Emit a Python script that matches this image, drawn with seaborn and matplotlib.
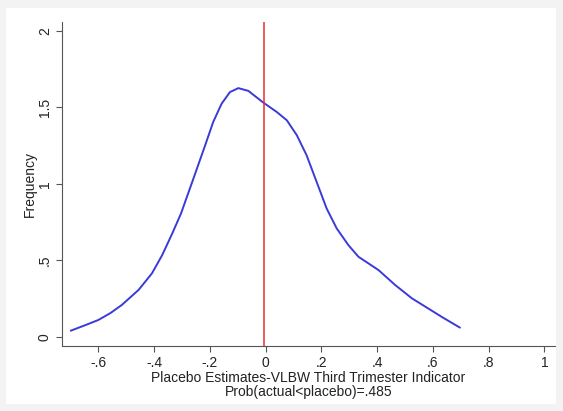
import matplotlib
matplotlib.use("Agg")
import matplotlib.pyplot as plt
import seaborn as sns
import pandas as pd
from matplotlib.patches import Rectangle

# Density curve of placebo estimates
est_x = [-0.699, -0.650, -0.600, -0.556, -0.516, -0.456, -0.408, -0.371, -0.335,
         -0.3035, -0.259, -0.217, -0.188, -0.158, -0.128, -0.098, -0.062,
         -0.008, 0.040, 0.076, 0.112, 0.147, 0.183, 0.219, 0.255, 0.297, 0.333,
         0.405, 0.465, 0.525, 0.580, 0.631, 0.697]
density = [0.041, 0.075, 0.111, 0.157, 0.209, 0.307, 0.415, 0.535, 0.676,
           0.807, 1.035, 1.252, 1.405, 1.524, 1.600, 1.626, 1.608,
           1.531, 1.470, 1.416, 1.318, 1.187, 1.013, 0.839, 0.709, 0.600, 0.524,
           0.437, 0.339, 0.252, 0.190, 0.132, 0.061]
actual_estimate = -0.007

x_ticks = [-0.6, -0.4, -0.2, 0, 0.2, 0.4, 0.6, 0.8, 1]
x_tick_labels = ["-.6", "-.4", "-.2", "0", ".2", ".4", ".6", ".8", "1"]
y_ticks = [0, 0.5, 1, 1.5, 2]
y_tick_labels = ["0", ".5", "1", "1.5", "2"]

sns.set_theme(style="ticks")
plt.rcParams['font.family'] = ['Liberation Sans', 'DejaVu Sans']

fig = plt.figure(figsize=(5.63, 4.11), dpi=100)
fig.patch.set_facecolor("#f3f3f3")
bg = Rectangle((6 / 563, 1 - 404 / 411), 550 / 563, 396 / 411,
               transform=fig.transFigure, facecolor="white",
               edgecolor="none", zorder=-10)
fig.patches.append(bg)

ax = fig.add_axes([61.7 / 563, 1 - 346 / 411, (555 - 61.7) / 563, (346 - 21.7) / 411])
ax.set_zorder(1)
ax.set_facecolor("white")

df = pd.DataFrame({"x": est_x, "y": density})
sns.lineplot(data=df, x="x", y="y", ax=ax, color="#3a3ad8", linewidth=1.4, sort=False)
ax.axvline(actual_estimate, color="#e8302a", linewidth=1.1)

ax.set_xlim(-0.7315, 1.038)
ax.set_ylim(-0.059, 2.06)
ax.set_xticks(x_ticks)
ax.set_xticklabels(x_tick_labels)
ax.set_yticks(y_ticks)
ax.set_yticklabels(y_tick_labels, rotation=90, va="center")

for s in ["top", "right"]:
    ax.spines[s].set_visible(False)
for s in ["left", "bottom"]:
    ax.spines[s].set_color("#555555")
    ax.spines[s].set_linewidth(0.8)

ax.tick_params(axis="both", length=4, width=0.8, color="#555555",
               labelsize=10, pad=3, labelcolor="#222222")

ax.set_xlabel("Placebo Estimates-VLBW Third Trimester Indicator\nProb(actual<placebo)=.485",
              fontsize=10, color="#222222", labelpad=1, linespacing=1.0)
ax.set_ylabel("Frequency", fontsize=10, color="#222222", labelpad=1)

fig.savefig("out.png", dpi=100, facecolor=fig.get_facecolor())
